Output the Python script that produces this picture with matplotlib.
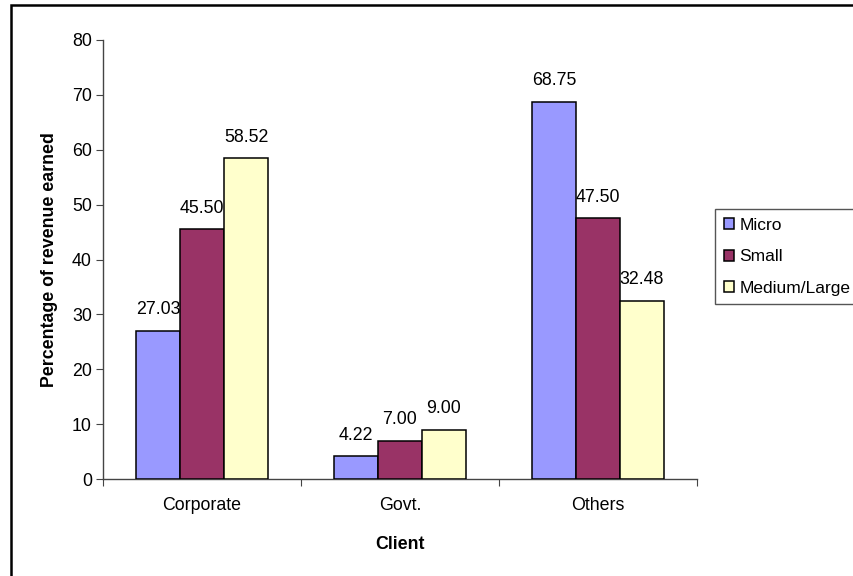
import matplotlib
matplotlib.use("Agg")
import matplotlib.pyplot as plt
from matplotlib.patches import Rectangle
from matplotlib.ticker import FixedLocator
import numpy as np

plt.rcParams['font.family'] = ['Liberation Sans', 'DejaVu Sans']

categories = ["Corporate", "Govt.", "Others"]
series_names = ["Micro", "Small", "Medium/Large"]
micro = [27.03, 4.22, 68.75]
small = [45.50, 7.00, 47.50]
medium_large = [58.52, 9.00, 32.48]
colors = ["#9999FF", "#993366", "#FFFFCC"]

FS = 12.8

fig = plt.figure(figsize=(8.54, 5.76), dpi=100)
ax = fig.add_axes([103 / 854, 1 - 479 / 576, 594 / 854, 439 / 576])

x = np.arange(len(categories))
width = 1 / 4.5
all_series = [micro, small, medium_large]
for i, (vals, name, col) in enumerate(zip(all_series, series_names, colors)):
    pos = x + (i - 1) * width
    bars = ax.bar(pos, vals, width, color=col, edgecolor="black",
                  linewidth=1.1, label=name, zorder=3)
    for b, v in zip(bars, vals):
        ax.annotate(f"{v:.2f}", (b.get_x() + b.get_width() / 2, v),
                    xytext=(0, 15), textcoords="offset points",
                    ha="center", va="center", fontsize=FS)

ax.set_xlim(-0.5, 2.5)
ax.set_ylim(0, 80)
ax.set_yticks(range(0, 81, 10))
ax.xaxis.set_major_locator(FixedLocator([-0.5, 0.5, 1.5, 2.5]))
ax.xaxis.set_minor_locator(FixedLocator(list(x)))
ax.xaxis.set_major_formatter(plt.NullFormatter())
ax.set_xticks(x, categories, minor=True)
ax.tick_params(axis="x", which="major", length=5, direction="out", color="#444444")
ax.tick_params(axis="x", which="minor", length=0, pad=13, labelsize=FS)
ax.tick_params(axis="y", length=5, direction="out", labelsize=FS, color="#444444", pad=3)

for s in ["top", "right"]:
    ax.spines[s].set_visible(False)
for s in ["left", "bottom"]:
    ax.spines[s].set_color("#444444")
    ax.spines[s].set_linewidth(1.0)

ax.set_ylabel("Percentage of revenue earned", fontsize=FS, fontweight="bold", labelpad=10)
ax.set_xlabel("Client", fontsize=FS, fontweight="bold", labelpad=16)

leg = fig.legend(loc="upper left", bbox_to_anchor=(715 / 854, 1 - 209 / 576),
                 bbox_transform=fig.transFigure, borderaxespad=0, borderpad=0.5,
                 fontsize=12.5, handlelength=0.6, handleheight=0.6,
                 handletextpad=0.3, labelspacing=0.95, fancybox=False,
                 edgecolor="#555555", framealpha=1)
leg.get_frame().set_linewidth(1.0)

# outer chart border
fig.patches.append(Rectangle((11 / 854, -0.2), 1.2, 1.2 - 5 / 576,
                             transform=fig.transFigure, fill=False,
                             edgecolor="black", linewidth=1.8))

fig.savefig("out.png", dpi=100, facecolor="white")
